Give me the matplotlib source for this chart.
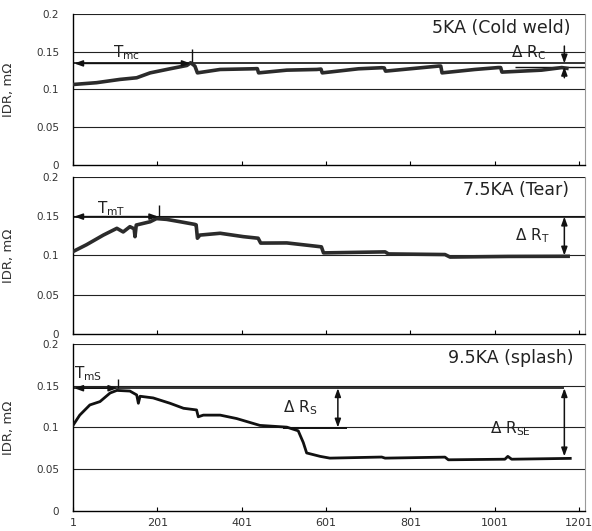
import matplotlib
matplotlib.use("Agg")
import matplotlib.pyplot as plt

# readings (sample index, IDR in mOhm)
x_5ka = [1, 57, 112, 152, 184, 231, 271, 280, 290, 296, 350, 428, 438, 441, 508, 579,
         589, 592, 678, 733, 739, 742, 868, 873, 876, 954, 1009, 1015, 1018, 1112, 1160, 1172]
y_5ka = [0.1066, 0.109, 0.1133, 0.1155, 0.122, 0.1274, 0.1318, 0.1354, 0.131, 0.122, 0.1265,
         0.1274, 0.1276, 0.122, 0.1256, 0.1265, 0.127, 0.122, 0.1274, 0.1288, 0.1285, 0.1243,
         0.131, 0.131, 0.122, 0.1265, 0.129, 0.129, 0.123, 0.1256, 0.129, 0.128]

x_75ka = [1, 33, 73, 105, 120, 136, 146, 148, 151, 184, 199, 223, 255, 290, 293, 296, 302,
          350, 405, 440, 446, 508, 579, 590, 595, 741, 749, 883, 895, 1033, 1175]
y_75ka = [0.105, 0.1137, 0.126, 0.1346, 0.130, 0.1367, 0.134, 0.124, 0.1388, 0.143, 0.147,
          0.146, 0.143, 0.1396, 0.139, 0.122, 0.126, 0.1283, 0.124, 0.122, 0.1158, 0.116,
          0.1117, 0.111, 0.1033, 0.1046, 0.102, 0.1012, 0.098, 0.0988, 0.099]

x_95ka = [1, 17, 41, 65, 89, 105, 136, 152, 156, 160, 191, 231, 263, 294, 298, 310, 350, 389,
          444, 508, 535, 547, 555, 587, 610, 733, 741, 883, 891, 1025, 1032, 1041, 1180]
y_95ka = [0.1025, 0.1148, 0.127, 0.131, 0.1413, 0.1444, 0.1436, 0.139, 0.129, 0.1374, 0.1354,
          0.129, 0.123, 0.121, 0.1128, 0.1148, 0.1148, 0.1107, 0.1025, 0.1004, 0.096, 0.082,
          0.0695, 0.0654, 0.0633, 0.0646, 0.0633, 0.0645, 0.0613, 0.062, 0.0654, 0.062, 0.063]

titles = ["5KA (Cold weld)", "7.5KA (Tear)", "9.5KA (splash)"]
xticks = [1, 201, 401, 601, 801, 1001, 1201]
yticks = [0, 0.05, 0.1, 0.15, 0.2]
ytick_labels = ["0", "0.05", "0.1", "0.15", "0.2"]

fig = plt.figure(figsize=(5.92, 5.31), dpi=100)
boxes = [[0.1233, 0.6893, 0.8649, 0.2844],
         [0.1233, 0.3710, 0.8649, 0.2957],
         [0.1233, 0.0377, 0.8649, 0.3145]]
title_pos = [(0.971, 0.907), (0.969, 0.917), (0.977, 0.916)]
data = [(x_5ka, y_5ka, 2.6, "#2b2b2b"), (x_75ka, y_75ka, 2.6, "#2b2b2b"), (x_95ka, y_95ka, 2.0, "#111111")]

axes = []
for i, box in enumerate(boxes):
    ax = fig.add_axes(box)
    xs, ys, lw, col = data[i]
    ax.plot(xs, ys, color=col, lw=lw, solid_joinstyle="round", zorder=3)
    ax.set_xlim(1, 1215)
    ax.set_ylim(0, 0.2)
    ax.set_yticks(yticks)
    ax.set_yticklabels(ytick_labels)
    ax.set_xticks(xticks)
    for v in [0.05, 0.1, 0.15, 0.2]:
        ax.axhline(v, color="#222222", lw=0.8, zorder=1)
    ax.tick_params(axis="y", length=0, pad=10, labelsize=7.5, labelcolor="#333333")
    ax.tick_params(axis="x", direction="in", length=3, width=0.8, labelsize=8,
                   labelcolor="#333333", pad=5)
    if i < 2:
        ax.set_xticklabels([])
    for s in ["left", "bottom"]:
        ax.spines[s].set_linewidth(1.0)
    ax.spines["top"].set_visible(False)
    ax.spines["right"].set_color("#999999")
    ax.spines["right"].set_linewidth(0.8)
    ax.set_ylabel("IDR, mΩ", fontsize=9.5, color="#333333")
    ax.yaxis.set_label_coords(-0.113, 0.5)
    ax.text(title_pos[i][0], title_pos[i][1], titles[i], transform=ax.transAxes,
            ha="right", va="center", fontsize=12.5, color="#222222")
    axes.append(ax)

aprops = dict(arrowstyle="<|-|>,head_length=0.5,head_width=0.18", color="#111111",
              lw=1.1, shrinkA=0, shrinkB=0, mutation_scale=10)
sprops = dict(arrowstyle="-|>,head_length=0.5,head_width=0.18", color="#111111",
              lw=1.1, shrinkA=0, shrinkB=0, mutation_scale=10)

# panel 1
ax = axes[0]
ax.hlines(0.1345, 1, 1215, color="#111111", lw=1.2, zorder=2)
ax.hlines(0.130, 1050, 1215, color="#111111", lw=1.0, zorder=2)
ax.annotate("", xy=(4, 0.1345), xytext=(280, 0.1345), arrowprops=aprops)
ax.vlines(282, 0.1345, 0.153, color="#111111", lw=1.0)
ax.text(95, 0.1425, r"$\mathrm{T}_{\mathrm{mc}}$", fontsize=11, color="#222222")
ax.text(1040, 0.1425, r"$\Delta\ \mathrm{R}_{\mathrm{C}}$", fontsize=11, color="#222222")
ax.annotate("", xy=(1166, 0.1345), xytext=(1166, 0.1575), arrowprops=sprops)
ax.annotate("", xy=(1166, 0.130), xytext=(1166, 0.1155), arrowprops=sprops)

# panel 2
ax = axes[1]
ax.hlines(0.1495, 1, 1215, color="#111111", lw=1.2, zorder=2)
ax.annotate("", xy=(4, 0.1495), xytext=(203, 0.1495), arrowprops=aprops)
ax.vlines(204, 0.1495, 0.164, color="#111111", lw=1.0)
ax.text(57, 0.1535, r"$\mathrm{T}_{\mathrm{mT}}$", fontsize=11, color="#222222")
ax.text(1049, 0.119, r"$\Delta\ \mathrm{R}_{\mathrm{T}}$", fontsize=11, color="#222222")
ax.annotate("", xy=(1166, 0.1495), xytext=(1166, 0.1), arrowprops=aprops)

# panel 3
ax = axes[2]
ax.hlines(0.147, 1, 1166, color="#111111", lw=1.2, zorder=2)
ax.hlines(0.0995, 500, 650, color="#111111", lw=1.4, zorder=2)
ax.annotate("", xy=(4, 0.147), xytext=(106, 0.147), arrowprops=aprops)
ax.vlines(107, 0.147, 0.158, color="#111111", lw=1.0)
ax.text(4, 0.159, r"$\mathrm{T}_{\mathrm{mS}}$", fontsize=11, color="#222222")
ax.annotate("", xy=(629, 0.147), xytext=(629, 0.1), arrowprops=aprops)
ax.text(499, 0.118, r"$\Delta\ \mathrm{R}_{\mathrm{S}}$", fontsize=11, color="#222222")
ax.annotate("", xy=(1166, 0.147), xytext=(1166, 0.0654), arrowprops=aprops)
ax.text(990, 0.093, r"$\Delta\ \mathrm{R}_{\mathrm{SE}}$", fontsize=11, color="#222222")

fig.savefig("out.png", dpi=100)
